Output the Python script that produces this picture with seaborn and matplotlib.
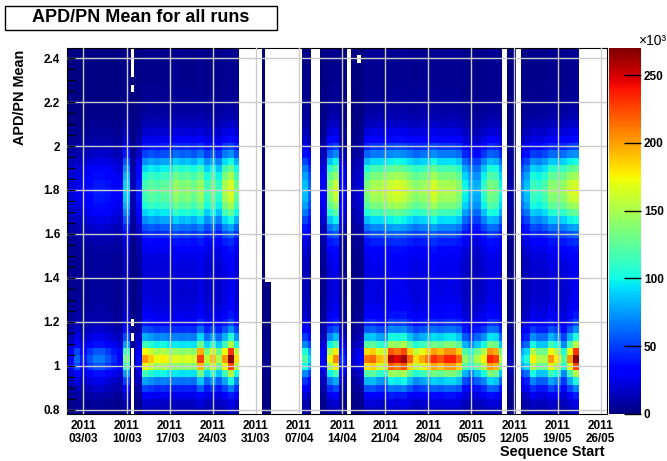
import numpy as np
import pandas as pd
import matplotlib
matplotlib.use("Agg")
import matplotlib.pyplot as plt
from matplotlib.patches import Rectangle
import seaborn as sns

plt.rcParams["font.family"] = ["Liberation Sans", "DejaVu Sans"]
plt.rcParams["font.weight"] = "bold"

# days since 03/03/2011, one bin per day (bin centred on the day)
days = list(range(-3, 86))

# height of the APD/PN ~1.03 band per day (x10^3)
low_amp = [25, 30, 60, 40, 55, 65, 65, 55, 45, 35, 130, 10, 35,
           200, 185, 170, 175, 165, 165, 160, 165, 160, 225, 155, 190, 150, 200, 265, 180,
           0, 0, 0, 4, 4, 0, 0, 0, 0, 0,
           120, 90, 0, 35, 170, 205, 45, 35, 20, 30,
           210, 215, 190, 185, 255, 245, 260, 215, 180, 195, 210, 230, 220, 235, 235, 215,
           140, 120, 150, 175, 235, 225, 150, 15, 15, 90, 105, 175, 150, 150, 200, 175,
           120, 200, 265,
           0, 0, 0, 0, 0]

# height of the APD/PN ~1.8 band per day (x10^3)
high_amp = [15, 20, 25, 30, 35, 40, 40, 38, 32, 28, 90, 12, 40,
            115, 125, 120, 125, 125, 145, 135, 140, 130, 145, 115, 130, 110, 150, 165, 130,
            0, 0, 0, 3, 3, 0, 0, 0, 0, 0,
            85, 60, 0, 30, 140, 160, 35, 25, 15, 20,
            135, 150, 150, 155, 160, 165, 160, 150, 140, 145, 150, 165, 150, 150, 150, 140,
            100, 85, 80, 110, 135, 130, 100, 10, 10, 70, 85, 115, 110, 120, 140, 140,
            145, 160, 165,
            0, 0, 0, 0, 0]

# APD/PN bins: 50 bins of 1/30 starting at 0.78
y_lo = 0.78
y_step = 1 / 30
n_y = 50

# relative shape of each band, from the lowest APD/PN bin to the highest
low_shape = [0.06, 0.09, 0.15, 0.25, 0.38, 0.57, 0.85, 1.00, 0.86, 0.57,
             0.39, 0.26, 0.18, 0.13, 0.10, 0.08, 0.07, 0.06, 0.05, 0.04,
             0.03, 0.02, 0.015, 0.01, 0.01, 0.01, 0.01, 0.01, 0.01, 0.01,
             0.01, 0.01, 0.01, 0.01, 0.01, 0.01, 0.01, 0.01, 0.01, 0.005,
             0.005, 0.005, 0.005, 0.005, 0.005, 0.005, 0.005, 0.005, 0.005, 0.005]
high_shape = [0.01, 0.01, 0.01, 0.01, 0.01, 0.01, 0.01, 0.01, 0.01, 0.01,
              0.02, 0.02, 0.02, 0.03, 0.04, 0.05, 0.06, 0.07, 0.09, 0.11,
              0.13, 0.16, 0.20, 0.26, 0.34, 0.45, 0.60, 0.75, 0.88, 0.96,
              1.00, 0.97, 0.88, 0.76, 0.60, 0.42, 0.30, 0.20, 0.14, 0.10,
              0.07, 0.05, 0.04, 0.03, 0.025, 0.02, 0.02, 0.02, 0.02, 0.02]

# periods without any sequence (empty bins)
gap_start = [25.25, 30.5, 37.0, 42.75, 68.0, 70.25, 80.5]
gap_end = [29.0, 35.5, 38.5, 43.5, 68.75, 71.0, 85.5]
# partly empty bins: (day from, day to, APD/PN from, APD/PN to)
holes = [(7.75, 8.25, 0.78, 1.08), (7.75, 8.25, 1.113, 1.147), (7.75, 8.25, 1.18, 1.213),
         (7.75, 8.25, 2.247, 2.28), (7.75, 8.25, 2.313, 2.447),
         (29.5, 30.5, 1.38, 2.447), (44.5, 45.0, 2.38, 2.413)]

tick_days = [0, 7, 14, 21, 28, 35, 42, 49, 56, 63, 70, 77, 84]
tick_dates = ["03/03", "10/03", "17/03", "24/03", "31/03", "07/04", "14/04",
              "21/04", "28/04", "05/05", "12/05", "19/05", "26/05"]
y_ticks = [0.8, 1.0, 1.2, 1.4, 1.6, 1.8, 2.0, 2.2, 2.4]
y_tick_labels = ["0.8", "1", "1.2", "1.4", "1.6", "1.8", "2", "2.2", "2.4"]
cbar_ticks = [0, 50, 100, 150, 200, 250]

## build the 2D histogram (quarter-day columns)
sub = 4
x0 = days[0] - 0.5
low_q = np.repeat(low_amp, sub)
high_q = np.repeat(high_amp, sub)
z = np.outer(low_shape, low_q) + np.outer(high_shape, high_q) + 0.5

x_cent = x0 + (np.arange(len(low_q)) + 0.5) / sub
y_cent = y_lo + (np.arange(n_y) + 0.5) * y_step
mask = np.zeros(z.shape, dtype=bool)
for a, b in zip(gap_start, gap_end):
    mask[:, (x_cent > a) & (x_cent < b)] = True
for a, b, c, d in holes:
    mask[np.ix_((y_cent > c) & (y_cent < d), (x_cent > a) & (x_cent < b))] = True

df = pd.DataFrame(z[::-1], index=np.round(y_cent[::-1], 3), columns=np.round(x_cent, 3))
mask = mask[::-1]
y_top = y_lo + n_y * y_step

## plot
fig = plt.figure(figsize=(6.67, 4.61), dpi=100)
ax = fig.add_axes([0.1004, 0.102, 0.8096, 0.794])
cax = fig.add_axes([0.913, 0.102, 0.048, 0.794])

sns.heatmap(df, mask=mask, cmap="jet", vmin=0, vmax=270, ax=ax, cbar_ax=cax,
            xticklabels=False, yticklabels=False,
            cbar_kws={"ticks": cbar_ticks})

ax.set_xlim((-2.68 - x0) * sub, (85.03 - x0) * sub)
ax.set_ylim(n_y, 0)
ax.set_xticks([(t - x0) * sub for t in tick_days])
ax.set_xticklabels(["2011\n" + d for d in tick_dates])
ax.set_yticks([(y_top - v) / y_step for v in y_ticks])
ax.set_yticklabels(y_tick_labels)
ax.set_yticks([(y_top - v) / y_step for v in np.arange(0.8, 2.44, 0.05)], minor=True)
ax.set_xlabel("")
ax.set_ylabel("")

ax.tick_params(axis="y", which="both", direction="in", length=6, width=0.8,
               color="black", labelsize=8.5, pad=5)
ax.tick_params(axis="x", which="major", direction="in", length=0, labelsize=8.5, pad=4)
ax.grid(True, which="major", color="#cccccc", linewidth=1.0)
ax.set_axisbelow(False)
for s in ax.spines.values():
    s.set_visible(True)
    s.set_color("black")
    s.set_linewidth(0.8)

cbar = ax.collections[0].colorbar
cbar.outline.set_visible(False)
cax.tick_params(direction="in", length=12, width=1, color="black", labelsize=8.5, pad=2)

# title box
fig.patches.append(Rectangle((5 / 667, 1 - 30 / 461), 272 / 667, 24 / 461,
                             transform=fig.transFigure, facecolor="white",
                             edgecolor="black", linewidth=1))
fig.text(141 / 667, 1 - 18 / 461, "APD/PN Mean for all runs", ha="center", va="center",
         fontsize=13, fontweight="bold")
fig.text(20 / 667, 1 - 50 / 461, "APD/PN Mean", rotation=90, ha="center", va="top",
         fontsize=10.4, fontweight="bold")
fig.text(605 / 667, 1 - 452 / 461, "Sequence Start", ha="right", va="center",
         fontsize=10.4, fontweight="bold")
fig.text(652 / 667, 1 - 41 / 461, "×10³", ha="center", va="center",
         fontsize=10, fontweight="normal")

fig.savefig("out.png", dpi=100)
